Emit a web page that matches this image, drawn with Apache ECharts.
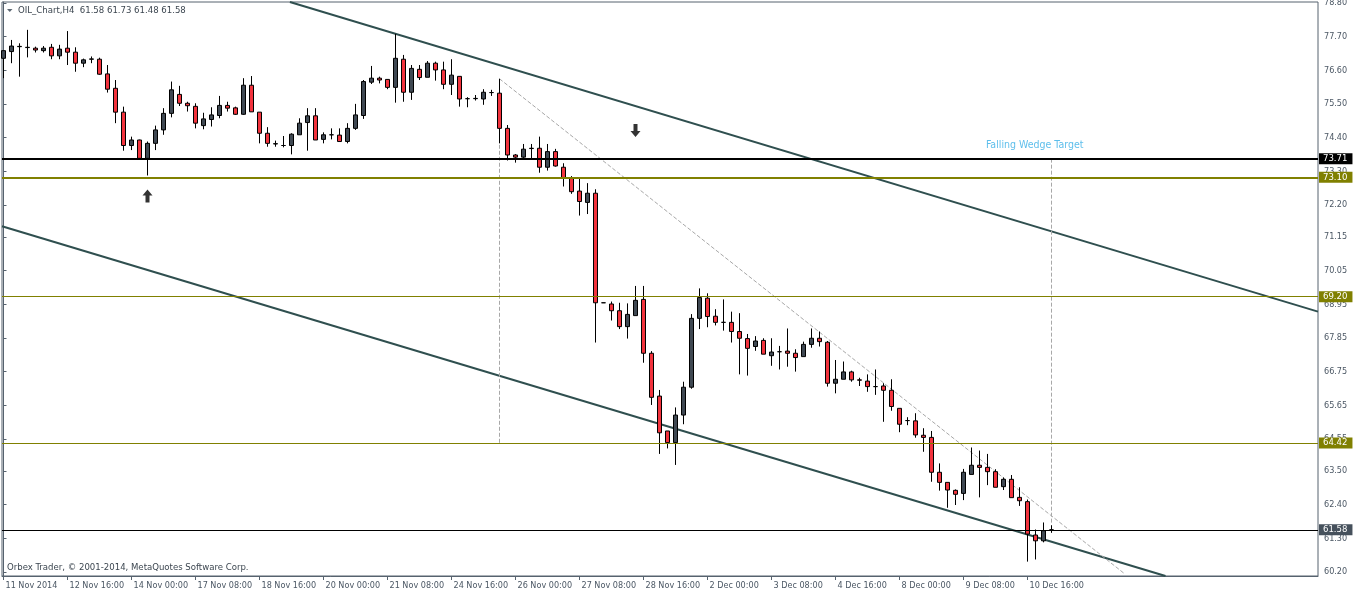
<!DOCTYPE html>
<html><head><meta charset="utf-8">
<script src="https://cdn.jsdelivr.net/npm/echarts@6/dist/echarts.min.js"></script>
<style>html,body{margin:0;padding:0;background:#fff}#c{width:1358px;height:594px}</style>
</head><body><div id="c"></div>
<script>
// ---- data (H4 bars, index 0 = 11 Nov 2014 00:00) ----
const openP = [76.99,77.21,77.37,77.34,77.32,77.24,77.35,77.07,77.32,77.19,76.83,76.96,76.96,76.48,76.01,75.23,74.14,74.32,73.72,74.21,
74.65,75.19,75.81,75.52,75.42,74.79,74.99,75.12,75.45,75.37,75.16,76.11,75.23,74.54,74.19,74.14,74.14,74.49,74.89,75.11,
74.34,74.49,74.48,74.27,74.70,75.12,76.21,76.34,76.30,76.04,76.96,75.88,76.63,76.37,76.83,76.61,76.14,76.40,75.67,75.67,
75.66,75.87,75.85,74.70,73.83,73.76,74.04,74.05,73.43,73.94,73.43,73.07,72.65,72.28,72.58,69.00,68.96,68.74,68.22,68.58,
69.11,67.35,65.95,64.81,64.43,65.33,66.24,68.49,69.15,68.56,68.36,68.36,68.06,67.83,67.57,67.77,67.27,67.40,67.42,67.35,
67.24,67.64,67.84,67.71,66.37,66.50,66.74,66.48,66.44,66.26,66.28,66.14,65.55,65.15,65.14,64.67,64.60,63.46,63.13,62.87,
62.77,63.39,63.69,63.62,63.48,62.99,63.23,62.64,62.50,61.41,61.22,61.58];
const highP = [77.24,77.59,77.48,77.92,77.37,77.39,77.46,77.43,77.88,77.35,76.98,77.05,77.01,76.77,76.28,75.41,74.43,74.33,74.27,74.79,
75.36,76.23,76.09,75.57,75.52,75.21,75.39,75.76,75.57,75.41,76.34,76.41,75.23,74.74,74.30,74.45,74.54,75.03,75.36,75.36,
74.57,74.70,74.70,74.87,75.50,76.28,76.74,76.39,76.31,77.79,77.10,76.77,76.77,76.90,76.88,76.88,76.96,76.40,75.72,75.79,
75.98,75.96,76.32,74.81,73.86,74.19,74.19,74.43,74.19,74.03,73.56,73.14,73.07,72.91,72.71,69.00,69.04,69.00,68.98,69.55,
69.55,67.42,66.15,64.81,65.58,66.42,68.63,69.47,69.31,68.79,69.11,68.71,68.66,67.98,67.91,67.84,67.84,67.59,68.16,67.48,
67.73,68.16,68.06,67.75,67.13,67.08,66.78,66.55,66.66,66.82,66.37,66.50,65.55,65.26,65.39,64.90,64.81,63.75,63.13,62.90,
63.57,64.27,64.17,64.06,63.56,63.29,63.37,62.97,62.57,61.59,61.82,61.73];
const lowP = [76.34,76.83,76.39,77.02,77.18,77.18,76.96,76.96,76.77,76.55,76.70,76.83,76.45,75.87,74.87,73.97,73.99,73.70,73.16,73.99,
74.49,75.06,75.43,75.25,74.70,74.67,74.76,75.03,75.25,75.14,75.14,75.24,74.21,74.10,74.10,74.08,73.85,74.49,73.97,74.32,
74.21,74.34,74.27,74.21,74.65,75.01,76.15,76.17,75.98,75.54,75.57,75.63,76.28,76.37,76.26,75.98,75.79,75.41,75.39,75.61,
75.47,75.76,74.21,73.65,73.58,73.69,73.72,73.25,73.32,73.45,72.80,72.56,71.85,71.90,67.70,69.00,68.42,68.14,67.83,68.58,
67.04,65.66,64.06,64.24,63.70,65.03,66.19,68.14,68.20,68.26,68.09,67.70,66.66,66.62,67.43,67.32,66.94,66.82,66.91,66.75,
67.24,67.53,67.57,66.26,66.04,66.50,66.42,66.28,66.09,65.99,65.11,65.47,64.77,65.00,64.59,64.13,63.15,62.86,62.30,62.39,
62.55,63.39,62.64,63.04,62.97,62.88,62.63,62.36,60.54,60.61,61.17,61.48];
const closeP = [77.24,77.39,77.38,77.35,77.26,77.32,77.07,77.29,77.19,76.83,76.94,76.97,76.47,75.98,75.23,74.14,74.32,73.72,74.21,74.65,
75.19,75.96,75.52,75.44,74.87,75.01,75.14,75.45,75.36,75.16,76.11,75.24,74.54,74.21,74.20,74.14,74.51,74.87,75.11,74.32,
74.49,74.49,74.27,74.70,75.14,76.23,76.34,76.28,76.04,76.99,75.88,76.66,76.36,76.83,76.61,76.14,76.44,75.66,75.67,75.68,
75.88,75.87,74.70,73.83,73.76,74.02,74.05,73.43,73.94,73.47,73.07,72.63,72.31,72.58,69.00,69.00,68.74,68.22,68.62,69.08,
67.35,65.91,64.75,64.43,65.33,66.24,68.49,69.17,68.55,68.36,68.36,68.06,67.84,67.51,67.75,67.32,67.39,67.40,67.35,67.21,
67.64,67.84,67.73,66.37,66.50,66.74,66.48,66.47,66.26,66.26,66.14,65.61,65.03,65.15,64.68,64.60,63.46,63.13,62.88,62.74,
63.46,63.69,63.62,63.48,62.97,63.23,62.63,62.53,61.44,61.22,61.55,61.58];

const xTickBars = [0,8,16,24,32,40,48,56,64,72,80,88,96,104,112,120,128];
const xTickLabels = ['11 Nov 2014','12 Nov 16:00','14 Nov 00:00','17 Nov 08:00','18 Nov 16:00','20 Nov 00:00','21 Nov 08:00',
  '24 Nov 16:00','26 Nov 00:00','27 Nov 08:00','28 Nov 16:00','2 Dec 00:00','3 Dec 08:00','4 Dec 16:00','8 Dec 00:00',
  '9 Dec 08:00','10 Dec 16:00'];
const yTickValues = [78.80,77.70,76.60,75.50,74.40,73.30,72.20,71.15,70.05,68.95,67.85,66.75,65.65,64.55,63.50,62.40,61.30,60.20];

const levels = [73.71, 73.10, 69.20, 64.42];
const upperTrend = [[35.8, 78.83], [164.31, 68.71]];
const lowerTrend = [[-0.19, 71.50], [145.25, 60.07]];
const wedgeDiagonal = [[62, 76.32], [140.2, 60.13]];
const wedgeHeight = [[62, 76.32], [62, 64.42]];
const targetHeight = [[131, 73.71], [131, 61.81]];
const upArrows = [[18, 72.49]];
const downArrows = [[79, 74.63]];
const noteText = 'Falling Wedge Target';
const notePoint = [[122.8, 74.16]];

// ---- chart ----
const FONT = 'Tahoma, "DejaVu Sans Condensed", "Liberation Sans", Arial, sans-serif';
const FRAME = '#56626e';
const TXT = '#4b5764';
const n = openP.length;
const candles = openP.map((o, i) => [i, o, closeP[i], lowP[i], highP[i]]);
const lastClose = closeP[n - 1];

const levelColors = ['#000000', '#808000', '#808000', '#808000'];
const levelWidths = [2, 2, 1, 1];
const markData = levels.map((v, i) => ({
  yAxis: v,
  lineStyle: {color: levelColors[i], width: levelWidths[i], type: 'solid'},
  label: {backgroundColor: levelColors[i]}
}));
markData.push({yAxis: lastClose, lineStyle: {color: '#000', width: 1, type: 'solid'}, label: {backgroundColor: '#46515c'}});

const arrowPath = 'path://M5,0 L10,5.5 L7,5.5 L7,12 L3,12 L3,5.5 L0,5.5 Z';
const lineSeries = (data, color, width, type) => ({
  type: 'line', data, showSymbol: false, symbol: 'none', silent: true, clip: true,
  lineStyle: {color, width, type}, z: 1
});

const chart = echarts.init(document.getElementById('c'), null, {renderer: 'canvas'});
chart.setOption({
  animation: false,
  backgroundColor: '#ffffff',
  grid: {left: 2, right: 40, top: 2, bottom: 18, show: true, borderColor: FRAME, borderWidth: 1,
         backgroundColor: '#ffffff', outerBoundsMode: 'none', containLabel: false},
  xAxis: {
    type: 'value', min: -0.1875, max: 164.3125,
    axisLine: {show: true, lineStyle: {color: FRAME, width: 1}},
    axisTick: {show: true, customValues: xTickBars, length: 4, lineStyle: {color: FRAME}},
    axisLabel: {show: true, customValues: xTickBars, align: 'left', margin: 5, padding: [0,0,0,2],
      color: TXT, fontSize: 9, fontFamily: FONT,
      formatter: v => xTickLabels[xTickBars.indexOf(Math.round(v))] || ''},
    splitLine: {show: false}
  },
  yAxis: {
    type: 'value', position: 'right', min: 60.07, max: 78.83,
    axisLine: {show: true, lineStyle: {color: FRAME, width: 1}},
    axisTick: {show: true, customValues: yTickValues, length: 3, lineStyle: {color: FRAME}},
    axisLabel: {show: true, customValues: yTickValues, margin: 6, color: TXT, fontSize: 9, fontFamily: FONT,
      formatter: v => v.toFixed(2)},
    splitLine: {show: false}
  },
  graphic: [
    {type: 'polygon', shape: {points: [[7, 9], [12.5, 9], [9.75, 12]]}, style: {fill: '#5d6873'}, z: 10},
    {type: 'text', x: 18, y: 10.5, z: 10, style: {
      text: 'OIL_Chart,H4  ' + [openP[n-1], highP[n-1], lowP[n-1], closeP[n-1]].map(v => v.toFixed(2)).join(' '),
      fill: '#3c4650', font: '9.5px ' + FONT, verticalAlign: 'middle'}},
    {type: 'text', x: 7, y: 567.5, z: 10, style: {
      text: 'Orbex Trader, \u00a9 2001-2014, MetaQuotes Software Corp.',
      fill: '#3c4650', font: '9.5px ' + FONT, verticalAlign: 'middle'}}
  ],
  series: [
    lineSeries(upperTrend, '#2f4f4f', 2, 'solid'),
    lineSeries(lowerTrend, '#2f4f4f', 2, 'solid'),
    lineSeries(wedgeDiagonal, '#a8a8a8', 1, [4, 2]),
    lineSeries(wedgeHeight, '#a8a8a8', 1, [4, 2]),
    lineSeries(targetHeight, '#a8a8a8', 1, [4, 2]),
    {
      type: 'candlestick', data: candles, encode: {x: 0, y: [1, 2, 3, 4]},
      barWidth: 4, silent: true, z: 3,
      itemStyle: {color: '#3f4852', color0: '#f2333d', borderColor: '#000', borderColor0: '#000',
                  borderColorDoji: '#000', borderWidth: 1},
      markLine: {
        silent: true, symbol: ['none', 'none'], animation: false, precision: 2,
        label: {show: true, position: 'end', distance: 1, color: '#ffffff', fontSize: 9.5, fontFamily: FONT,
                padding: [1, 5, 0, 4], lineHeight: 10, formatter: p => Number(p.value).toFixed(2)},
        emphasis: {disabled: true},
        data: markData
      }
    },
    {type: 'scatter', data: upArrows, symbol: arrowPath, symbolSize: [10, 13], silent: true, z: 4,
     itemStyle: {color: '#000'}},
    {type: 'scatter', data: downArrows, symbol: arrowPath, symbolSize: [10, 13], symbolRotate: 180, silent: true, z: 4,
     itemStyle: {color: '#000'}},
    {type: 'scatter', data: notePoint, symbolSize: 0, silent: true, z: 4,
     label: {show: true, position: 'right', distance: 0, formatter: noteText, color: '#35aee6',
             fontSize: 10.5, fontFamily: FONT}}
  ]
});
</script></body></html>
